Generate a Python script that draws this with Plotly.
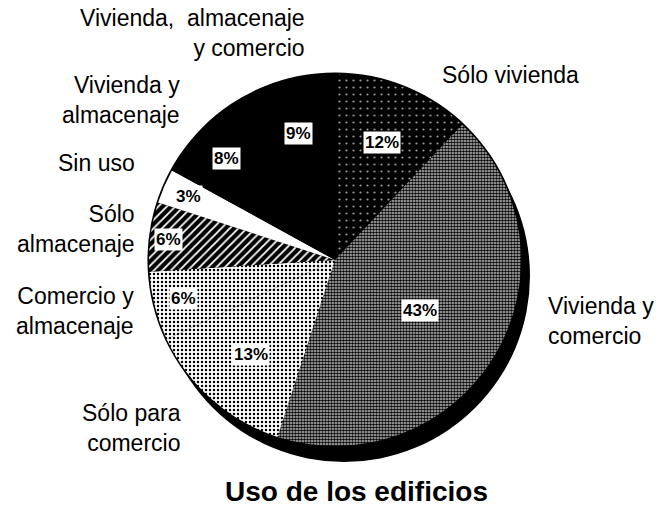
import math
import plotly.graph_objects as go

# ---- data ----
categories = ["Sólo vivienda", "Vivienda y comercio", "Sólo para comercio",
              "Comercio y almacenaje", "Sólo almacenaje", "Sin uso",
              "Vivienda y almacenaje", "Vivienda, almacenaje y comercio"]
shares = [12, 43, 13, 6, 6, 3, 8, 9]
pct_labels = [f"{v}%" for v in shares]
outer_labels = ["Sólo vivienda", "Vivienda y<br>comercio", "Sólo para<br>comercio",
                "Comercio y<br>almacenaje", "Sólo<br>almacenaje", "Sin uso",
                "Vivienda y<br>almacenaje", "Vivienda,  almacenaje<br>y comercio"]
title_text = "Uso de los edificios"

# ---- style / layout ----
W, H = 667, 506
cx, cy, R = 335, 260, 186
shadow_dx, shadow_dy = 9, 16
pct_radius = [0.68, 0.53, 0.68, 0.84, 0.90, 0.86, 0.80, 0.71]
label_pos = [(440, 75, "left"), (546, 321, "left"), (183, 428, "right"),
             (136, 311, "right"), (137, 229, "right"), (137, 163, "right"),
             (182, 100, "right"), (307, 33, "right")]
pat_shape = [".", ".", ".", ".", "/", "", "", ""]
pat_bg = ["black", "#c8c8c8", "white", "white", "black", "white", "black", "black"]
pat_fg = ["#9a9a9a", "black", "black", "black", "white", "white", "black", "black"]
pat_size = [7, 3, 4, 4, 6, 4, 4, 4]
pat_sol = [0.08, 0.6, 0.3, 0.3, 0.3, 0.3, 0.3, 0.3]
FONT = "Liberation Sans, Arial, Helvetica, sans-serif"


def px2paper(x, y):
    return x / W, 1 - y / H


def disc_domain(dx, dy, extra):
    a0, b1 = px2paper(cx - R - extra + dx, cy - R - extra + dy)
    a1, b0 = px2paper(cx + R + extra + dx, cy + R + extra + dy)
    return dict(x=[a0, a1], y=[b0, b1])


fig = go.Figure()

# shadow disc and outline disc
for dx, dy, extra in [(shadow_dx, shadow_dy, 0), (0, 0, 1.5)]:
    fig.add_trace(go.Pie(values=[1], labels=["fondo"], marker=dict(colors=["black"]),
                         textinfo="none", hoverinfo="skip", showlegend=False, sort=False,
                         domain=disc_domain(dx, dy, extra)))

# main pie
fig.add_trace(go.Pie(
    labels=categories, values=shares, sort=False, direction="clockwise", rotation=0,
    textinfo="none", showlegend=False,
    marker=dict(colors=pat_bg, line=dict(color="black", width=0),
                pattern=dict(shape=pat_shape, bgcolor=pat_bg, fgcolor=pat_fg,
                             size=pat_size, solidity=pat_sol)),
    domain=disc_domain(0, 0, 0)))

total = sum(shares)
cum = 0
annotations = []
for i, v in enumerate(shares):
    ang = math.radians(360 * (cum + v / 2) / total)
    cum += v
    r = R * pct_radius[i]
    px, py = cx + r * math.sin(ang), cy - r * math.cos(ang)
    ax, ay = px2paper(px, py)
    annotations.append(dict(x=ax, y=ay, xref="paper", yref="paper", text=f"<b>{pct_labels[i]}</b>",
                            showarrow=False, bgcolor="white", borderpad=1,
                            xanchor="center", yanchor="middle",
                            font=dict(family=FONT, size=17, color="black")))
    lx, ly, side = label_pos[i]
    lax, lay = px2paper(lx, ly)
    annotations.append(dict(x=lax, y=lay, xref="paper", yref="paper", text=outer_labels[i],
                            showarrow=False, xanchor=side, yanchor="middle", align=side,
                            font=dict(family=FONT, size=23, color="black")))

tx, ty = px2paper(356, 491)
annotations.append(dict(x=tx, y=ty, xref="paper", yref="paper", text=f"<b>{title_text}</b>",
                        showarrow=False, xanchor="center", yanchor="middle",
                        font=dict(family=FONT, size=28, color="black")))

fig.update_layout(width=W, height=H, margin=dict(l=0, r=0, t=0, b=0),
                  paper_bgcolor="white", plot_bgcolor="white",
                  annotations=annotations)
fig.write_html("out.html", config={"displayModeBar": False},
               post_script="document.body.style.margin='0';")
